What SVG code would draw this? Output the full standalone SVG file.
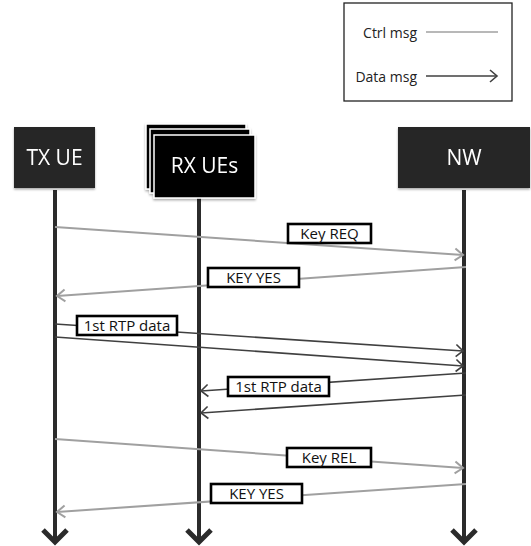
<svg xmlns="http://www.w3.org/2000/svg" width="531" height="546" viewBox="0 0 531 546">
<style>
.node{fill:#262626}
.ntext{font-family:"Open Sans","Liberation Sans",sans-serif;font-size:21px;fill:#fff;text-anchor:middle}
.life{stroke:#2b2b2b;stroke-width:4;fill:none}
.lifeend{stroke:#2b2b2b;stroke-width:5;fill:none;stroke-linejoin:miter}
.ctrl{stroke:#a0a0a0;stroke-width:2;fill:none}
.data{stroke:#404040;stroke-width:1.6;fill:none}
.lbox{fill:#fff;stroke:#000;stroke-width:2.6}
.ltext{font-family:"Open Sans","Liberation Sans",sans-serif;font-size:15px;fill:#111;text-anchor:middle}
.legtext{font-family:"Open Sans","Liberation Sans",sans-serif;font-size:14px;fill:#222;text-anchor:end}
.rx{fill:#000;stroke:#fff;stroke-width:1.5}
</style>
<defs>
<marker id="ag" markerUnits="userSpaceOnUse" markerWidth="20" markerHeight="20" viewBox="-10 -10 20 20" refX="0" refY="0" orient="auto">
<path d="M-8,-6 L0,0 L-8,6" fill="none" stroke="#a0a0a0" stroke-width="2"/>
</marker>
<marker id="ad" markerUnits="userSpaceOnUse" markerWidth="20" markerHeight="20" viewBox="-10 -10 20 20" refX="0" refY="0" orient="auto">
<path d="M-7,-6 L0,0 L-7,6" fill="none" stroke="#404040" stroke-width="1.6"/>
</marker>
<filter id="sh" x="-10%" y="-10%" width="130%" height="130%">
<feDropShadow dx="0" dy="1.5" stdDeviation="1.2" flood-color="#000" flood-opacity="0.35"/>
</filter>
</defs>

<g id="legend">
<rect x="344" y="3" width="168" height="98" fill="#fff" stroke="#222" stroke-width="1.3"/>
<text class="legtext" x="417" y="38">Ctrl msg</text>
<line x1="426" y1="32" x2="498" y2="32" stroke="#a0a0a0" stroke-width="1.6"/>
<text class="legtext" x="417" y="82">Data msg</text>
<line x1="426" y1="76" x2="497" y2="76" class="data" marker-end="url(#ad)"/>
</g>

<g id="lifelines">
<line class="life" x1="55" y1="190" x2="55" y2="541"/>
<path class="lifeend" d="M43,530 L55,542 L67,530"/>
<line class="life" x1="199" y1="197" x2="199" y2="541"/>
<path class="lifeend" d="M187,530 L199,542 L211,530"/>
<line class="life" x1="464" y1="190" x2="464" y2="541"/>
<path class="lifeend" d="M452,530 L464,542 L476,530"/>
</g>

<g id="tx-ue" filter="url(#sh)">
<rect class="node" x="14" y="127" width="81" height="61"/>
<text class="ntext" x="54.5" y="165">TX UE</text>
</g>

<g id="rx-ues" filter="url(#sh)">
<rect class="rx" x="146" y="124" width="100" height="65"/>
<rect class="rx" x="150" y="129" width="100" height="64"/>
<rect class="rx" x="154" y="135" width="101" height="63"/>
<text class="ntext" x="204.5" y="173">RX UEs</text>
</g>

<g id="nw" filter="url(#sh)">
<rect class="node" x="398" y="127" width="132" height="61"/>
<text class="ntext" x="464" y="165">NW</text>
</g>

<g id="connectors">
<line class="ctrl" x1="55" y1="227" x2="463" y2="255" marker-end="url(#ag)"/>
<line class="ctrl" x1="466" y1="267" x2="57" y2="296" marker-end="url(#ag)"/>
<line class="data" x1="55" y1="324" x2="463" y2="351" marker-end="url(#ad)"/>
<line class="data" x1="55" y1="337" x2="463" y2="366" marker-end="url(#ad)"/>
<line class="data" x1="466" y1="373" x2="201" y2="391" marker-end="url(#ad)"/>
<line class="data" x1="466" y1="395" x2="201" y2="413" marker-end="url(#ad)"/>
<line class="ctrl" x1="55" y1="439" x2="463" y2="468" marker-end="url(#ag)"/>
<line class="ctrl" x1="466" y1="484" x2="57" y2="512" marker-end="url(#ag)"/>
</g>

<g id="labels">
<rect class="lbox" x="288" y="224" width="83" height="19"/>
<text class="ltext" x="329.5" y="239">Key REQ</text>
<rect class="lbox" x="208" y="268" width="91" height="19"/>
<text class="ltext" x="253.5" y="283">KEY YES</text>
<rect class="lbox" x="77" y="316" width="100" height="19"/>
<text class="ltext" x="127" y="331">1st RTP data</text>
<rect class="lbox" x="228" y="377" width="101" height="19"/>
<text class="ltext" x="278.5" y="392">1st RTP data</text>
<rect class="lbox" x="287" y="448" width="84" height="19"/>
<text class="ltext" x="329" y="463">Key REL</text>
<rect class="lbox" x="211" y="484" width="91" height="19"/>
<text class="ltext" x="256.5" y="499">KEY YES</text>
</g>
</svg>
